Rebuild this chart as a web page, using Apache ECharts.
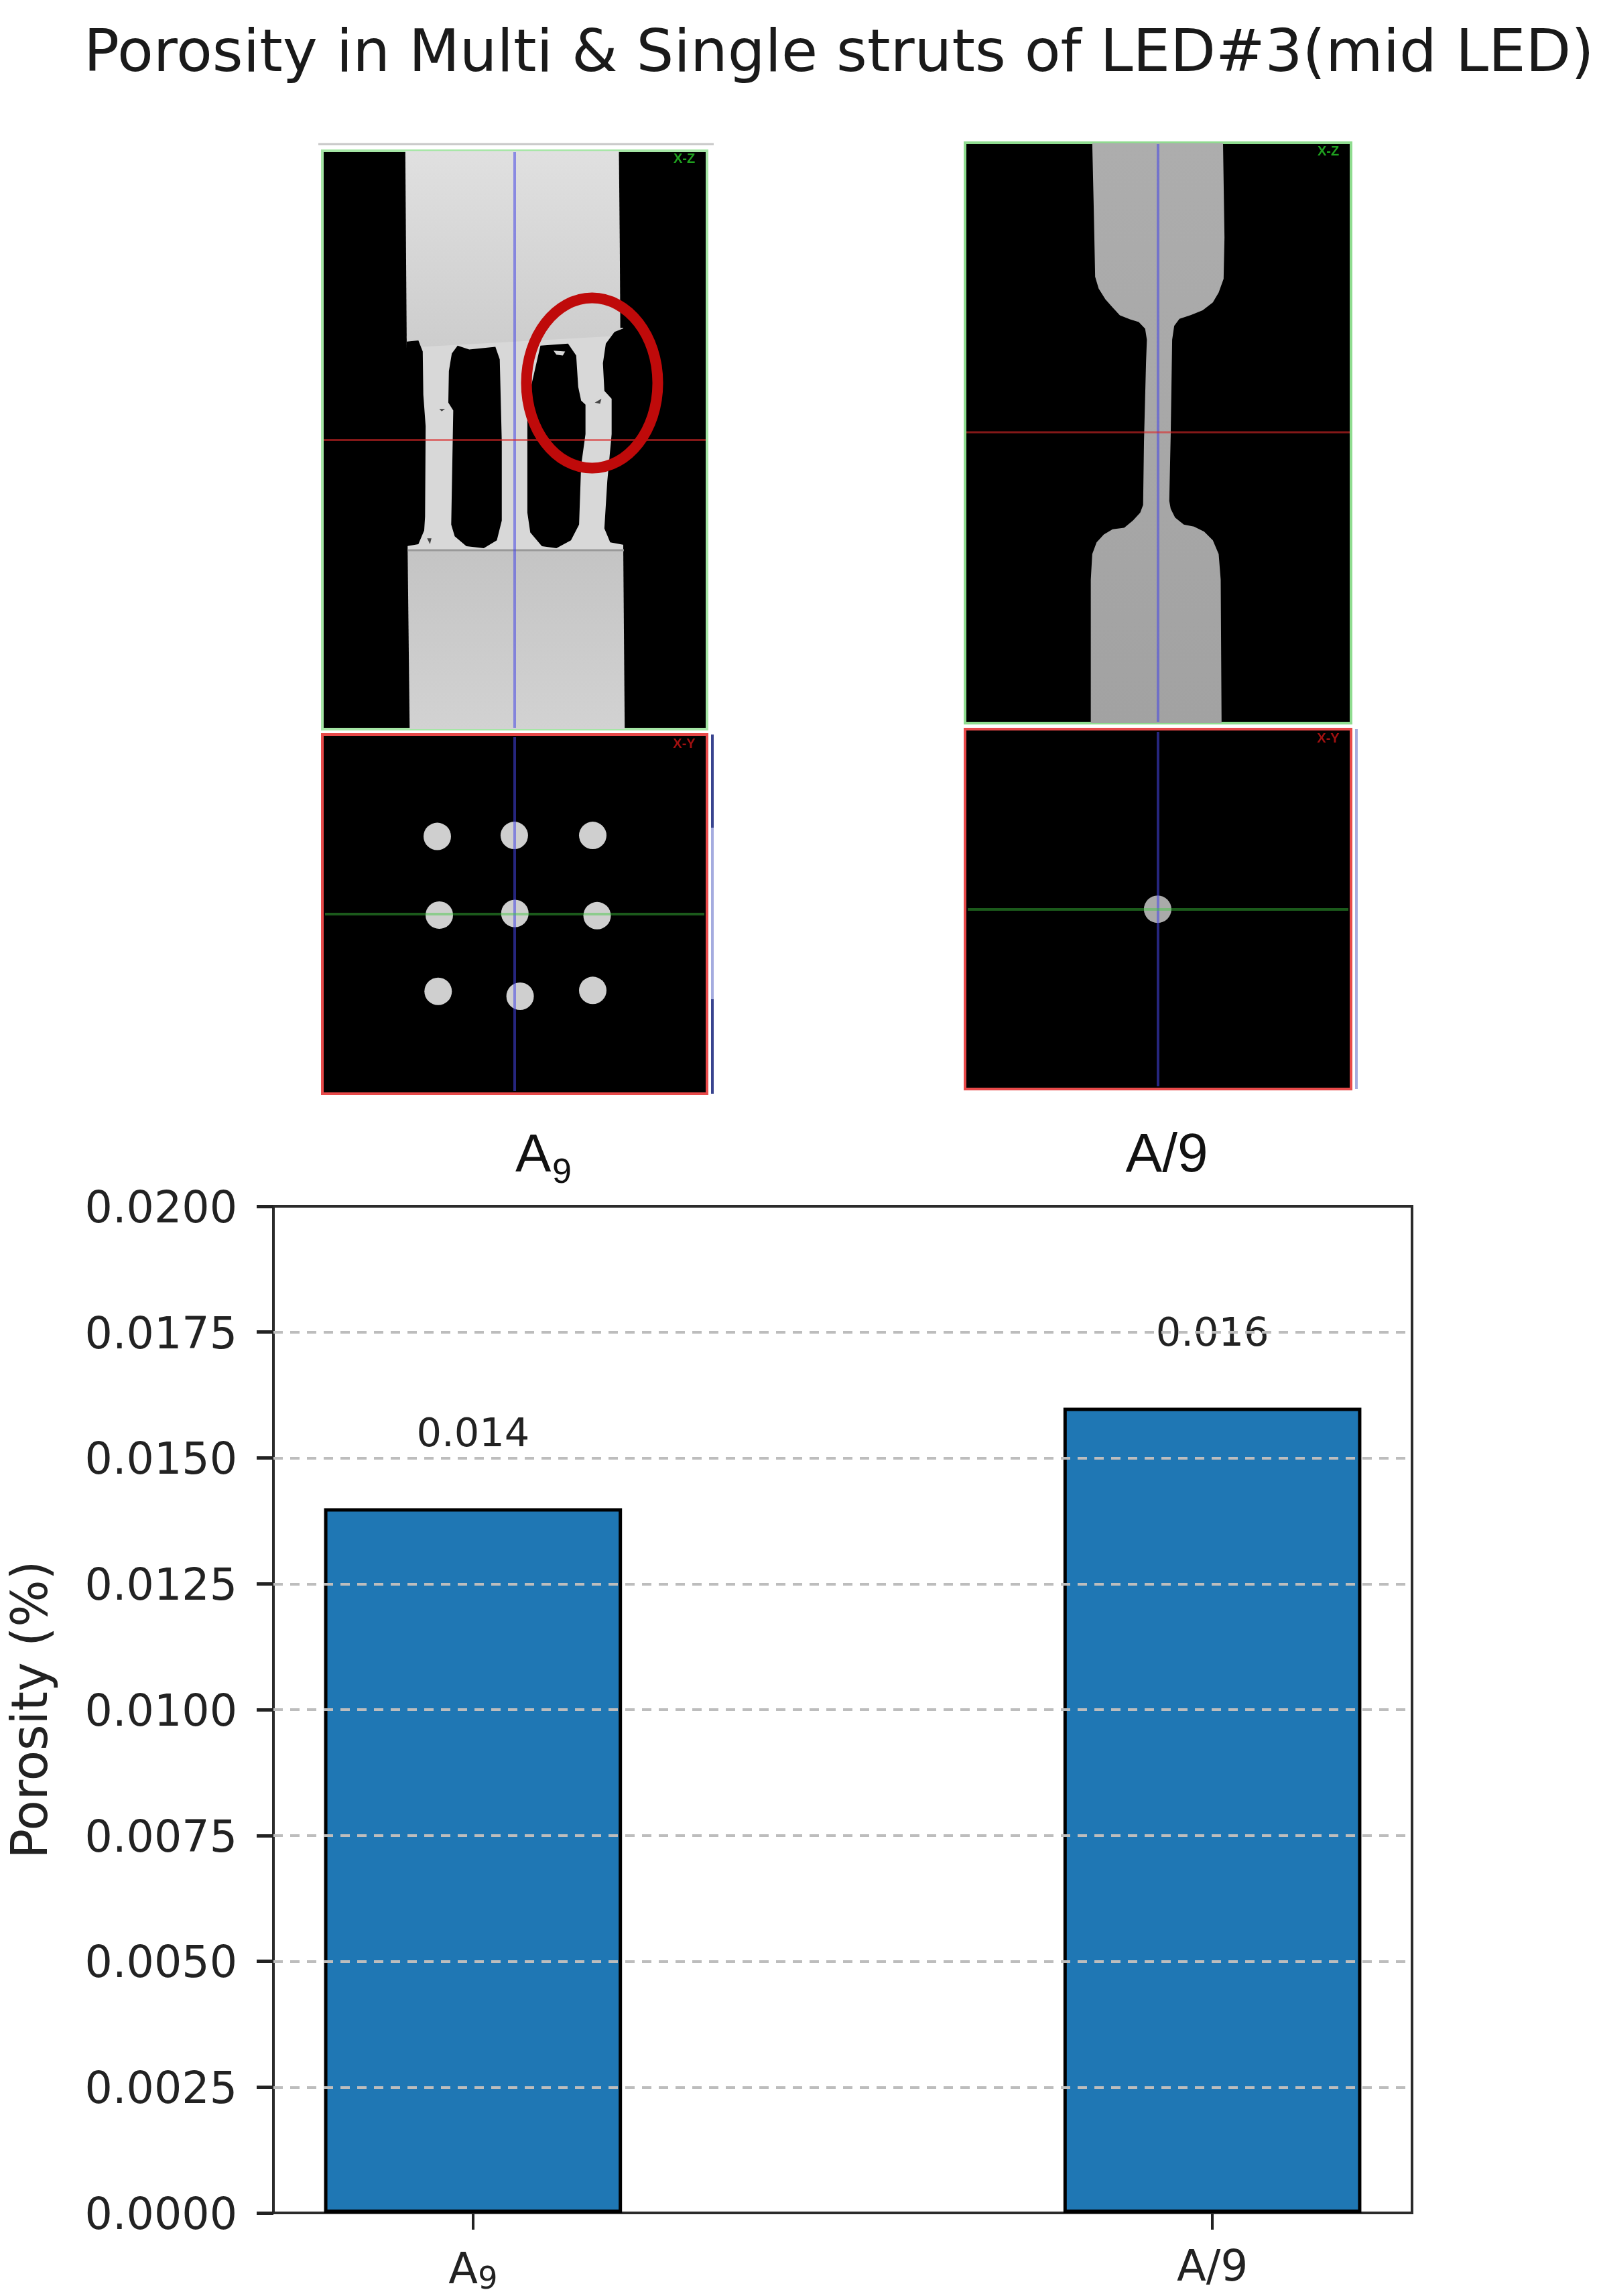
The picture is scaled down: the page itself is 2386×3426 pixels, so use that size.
<!DOCTYPE html>
<html>
<head>
<meta charset="utf-8">
<title>Porosity in Multi & Single struts</title>
<script src="https://cdn.jsdelivr.net/npm/echarts@6/dist/echarts.min.js"></script>
<style>
  html, body { margin: 0; padding: 0; background: #fff; }
  #chart { width: 2386px; height: 3426px; }
</style>
</head>
<body>
<div id="chart"></div>
<script>
const titleText = 'Porosity in Multi & Single struts of LED#3(mid LED)';
const yAxisName = 'Porosity (%)';
const categories = ['A₉', 'A/9'];
const porosity = [0.014, 0.016];

const FONT = '"DejaVu Sans", sans-serif';
const SCAN_FONT = '"Liberation Sans", Arial, sans-serif';
const BLUE_LINE = 'rgba(70,70,230,0.55)';
const GREEN_LINE = 'rgba(60,200,60,0.45)';
const RED_LINE = 'rgba(220,40,40,0.6)';

const leftTop = { x: 440, y: 190, sx: 2.306, sy: 1.704 };
const rightTop = { x: 1400, y: 190, sx: 2.306, sy: 1.704 };
const leftBottom = { x: 440, y: 1060, sx: 2.306, sy: 2.063 };
const rightBottom = { x: 1400, y: 1060, sx: 2.306, sy: 2.063 };

const multiTopBlock = [[380, 60], [1115, 60], [1118, 300], [1120, 530], [385, 560]];
const multiStrutBand = [[385, 530], [1130, 510], [1130, 1075], [388, 1075]];
const multiLowerBlock = [[388, 1075], [1130, 1075], [1135, 1530], [395, 1530]];
const multiPockets = [
  [[385, 545], [425, 542], [440, 570], [442, 680], [450, 760], [448, 990], [445, 1025], [425, 1060], [385, 1065]],
  [[560, 555], [600, 565], [690, 558], [705, 590], [712, 800], [712, 1000], [695, 1050], [650, 1070], [590, 1065], [550, 1040], [538, 1010], [545, 720], [528, 700], [530, 620], [540, 575]],
  [[845, 555], [940, 550], [968, 580], [975, 660], [985, 695], [1000, 705], [1000, 780], [985, 860], [978, 1010], [950, 1050], [900, 1070], [850, 1065], [810, 1030], [800, 980], [800, 700]],
  [[1135, 510], [1100, 520], [1070, 550], [1060, 600], [1065, 670], [1090, 690], [1090, 780], [1075, 900], [1065, 1020], [1085, 1055], [1135, 1062]],
];
const multiSpecks = [
  [[890, 568], [930, 570], [922, 580], [900, 578]],
  [[1032, 700], [1055, 690], [1050, 703]],
  [[497, 716], [517, 716], [505, 722]],
  [[455, 1045], [470, 1045], [465, 1060]],
];
const singleOutline = [
  [530, 40], [535, 200], [540, 380], [552, 410], [575, 437], [600, 458], [625, 478], [660, 488], [690, 495], [712, 512], [718, 540], [715, 600], [708, 800], [705, 960],
  [695, 980], [670, 1000], [640, 1018], [600, 1022], [570, 1035], [545, 1055], [530, 1085], [525, 1150], [525, 1515],
  [975, 1515], [972, 1150], [965, 1085], [945, 1050], [915, 1028], [880, 1015], [845, 1010], [815, 992], [800, 970], [795, 950], [800, 780], [805, 540],
  [812, 505], [830, 487], [870, 477], [910, 465], [945, 445], [965, 420], [982, 385], [985, 280], [980, 40],
];
const multiDots = [[490, 388], [755, 385], [1025, 385], [497, 630], [757, 625], [1040, 632], [493, 865], [775, 880], [1025, 862]];
const singleDots = [[755, 612]];

function toPage(crop, p) {
  return [crop.x + p[0] / crop.sx, crop.y + p[1] / crop.sy];
}
function poly(crop, points, fill) {
  return { type: 'polygon', shape: { points: points.map(p => toPage(crop, p)) }, style: { fill } };
}
function box(x1, y1, x2, y2, fill, stroke) {
  return {
    type: 'rect',
    shape: { x: x1, y: y1, width: x2 - x1, height: y2 - y1 },
    style: { fill, stroke: stroke || null, lineWidth: stroke ? 4 : 0 },
  };
}
function line(x1, y1, x2, y2, stroke, lineWidth) {
  return { type: 'line', shape: { x1, y1, x2, y2 }, style: { stroke, lineWidth } };
}
function vGrad(top, bottom) {
  return { type: 'linear', x: 0, y: 0, x2: 0, y2: 1, colorStops: [{ offset: 0, color: top }, { offset: 1, color: bottom }] };
}
function scanText(text, x, y, fill) {
  return { type: 'text', x, y, style: { text, fill, font: `bold 20px ${SCAN_FONT}`, align: 'center', verticalAlign: 'middle' } };
}
function caption(text, x, y, size, align) {
  return { type: 'text', x, y, style: { text, fill: '#111', font: `${size}px ${SCAN_FONT}`, align, verticalAlign: 'bottom' } };
}
function dots(crop, list, fill) {
  return list.map((p) => {
    const c = toPage(crop, p);
    return { type: 'circle', shape: { cx: c[0], cy: c[1], r: 20.5 }, style: { fill } };
  });
}

function buildScans() {
  const items = [];
  // multi struts, x-z view
  items.push(line(475, 215, 1065, 215, '#c8c8c8', 3));
  items.push(box(481, 225, 1055, 1088, '#000', '#a5e6a5'));
  items.push(poly(leftTop, multiStrutBand, '#d8d8d8'));
  items.push(poly(leftTop, multiTopBlock, vGrad('#e0e0e0', '#cdcdcd')));
  items.push(poly(leftTop, multiLowerBlock, vGrad('#c4c4c4', '#d2d2d2')));
  multiPockets.forEach(p => items.push(poly(leftTop, p, '#000')));
  multiSpecks.forEach((p, i) => items.push(poly(leftTop, p, i === 0 ? '#d8d8d8' : '#444')));
  items.push(line(608, 821, 931, 821, '#999', 3));
  items.push(line(768, 227, 768, 1086, BLUE_LINE, 4));
  items.push(line(483, 656.5, 1053, 656.5, RED_LINE, 3));
  items.push(scanText('X-Z', 1021, 237, '#1fa01f'));
  items.push({
    type: 'ellipse',
    shape: { cx: 883.5, cy: 571.5, rx: 98, ry: 127 },
    style: { fill: null, stroke: '#bf0a0a', lineWidth: 16 },
  });

  // multi struts, x-y view
  items.push(box(481, 1096, 1055, 1632, '#000', '#e84a4a'));
  items.push(...dots(leftBottom, multiDots, '#cfcfcf'));
  items.push(line(768, 1100, 768, 1628, BLUE_LINE, 4));
  items.push(line(485, 1364, 1051, 1364, GREEN_LINE, 4));
  items.push(scanText('X-Y', 1021, 1110, '#a01010'));
  items.push(line(1063, 1096, 1063, 1235, '#39448f', 4));
  items.push(line(1063, 1235, 1063, 1491, '#a5acdf', 4));
  items.push(line(1063, 1491, 1063, 1632, '#39448f', 4));

  // single strut, x-z view
  items.push(box(1440, 213, 2016, 1079, '#000', '#8fdc8f'));
  items.push(poly(rightTop, singleOutline, vGrad('#adadad', '#a2a2a2')));
  items.push(line(1728, 215, 1728, 1077, BLUE_LINE, 4));
  items.push(line(1442, 645, 2014, 645, RED_LINE, 3));
  items.push(scanText('X-Z', 1982, 226, '#1fa01f'));

  // single strut, x-y view
  items.push(box(1440, 1088, 2016, 1625, '#000', '#e84a4a'));
  items.push(...dots(rightBottom, singleDots, '#aaaaaa'));
  items.push(line(1728, 1092, 1728, 1621, BLUE_LINE, 4));
  items.push(line(1444, 1357, 2012, 1357, GREEN_LINE, 4));
  items.push(scanText('X-Y', 1982, 1102, '#a01010'));
  items.push(line(2024, 1088, 2024, 1625, '#a5acdf', 4));

  // captions under the scans
  items.push(caption('A', 769, 1766, 80, 'left'));
  items.push(caption('9', 824, 1777, 52, 'left'));
  items.push(caption('A/9', 1741, 1766, 82, 'center'));
  return items;
}

const chart = echarts.init(document.getElementById('chart'), null, { renderer: 'canvas' });
const categoryPositions = categories.map((c, i) => i);

chart.setOption({
  animation: false,
  backgroundColor: '#fff',
  title: {
    text: titleText,
    left: 120,
    top: 34,
    textStyle: { fontFamily: FONT, fontSize: 88, fontWeight: 'normal', color: '#1a1a1a' },
  },
  graphic: { elements: buildScans() },
  grid: {
    left: 408,
    top: 1800,
    width: 1699,
    height: 1503,
    show: true,
    borderColor: '#2b2b2b',
    borderWidth: 4,
    backgroundColor: 'transparent',
    containLabel: false,
  },
  xAxis: {
    type: 'value',
    min: -0.27,
    max: 1.27,
    splitLine: { show: false },
    axisLine: { show: false, onZero: false },
    axisTick: { show: true, length: 25, lineStyle: { color: '#222', width: 4 }, customValues: categoryPositions },
    axisLabel: {
      show: true,
      customValues: categoryPositions,
      formatter: v => categories[v].replace('₉', '{sub|9}'),
      margin: 52,
      fontFamily: FONT,
      fontSize: 64,
      color: '#222',
      rich: {
        sub: { fontFamily: FONT, fontSize: 46, color: '#222', padding: [26, 0, 0, 0] },
      },
    },
  },
  yAxis: {
    type: 'value',
    min: 0,
    max: 0.02,
    interval: 0.0025,
    z: 5,
    name: yAxisName,
    nameLocation: 'middle',
    nameGap: 320,
    nameTextStyle: { fontFamily: FONT, fontSize: 74, color: '#222' },
    axisLine: { show: false, onZero: false },
    axisTick: { show: true, length: 25, lineStyle: { color: '#222', width: 5 } },
    axisLabel: {
      margin: 54,
      // top alignment with a short line box sits the digits a little under the tick, as in the reference
      verticalAlign: 'top',
      lineHeight: 14,
      fontFamily: FONT,
      fontSize: 65,
      color: '#222',
      formatter: v => v.toFixed(4),
    },
    splitLine: {
      show: true,
      showMinLine: false,
      showMaxLine: false,
      lineStyle: { color: '#bdbdbd', width: 4, type: [14, 11] },
    },
  },
  series: [{
    type: 'bar',
    z: 2,
    barWidth: '40.3%',
    data: porosity.map((v, i) => [categoryPositions[i], v]),
    itemStyle: { color: '#1f77b4', borderColor: '#000', borderWidth: 5 },
    label: {
      show: true,
      position: 'top',
      distance: 78,
      fontFamily: FONT,
      fontSize: 59,
      color: '#222',
      formatter: p => String(p.value[1]),
    },
  }],
});
</script>
</body>
</html>
